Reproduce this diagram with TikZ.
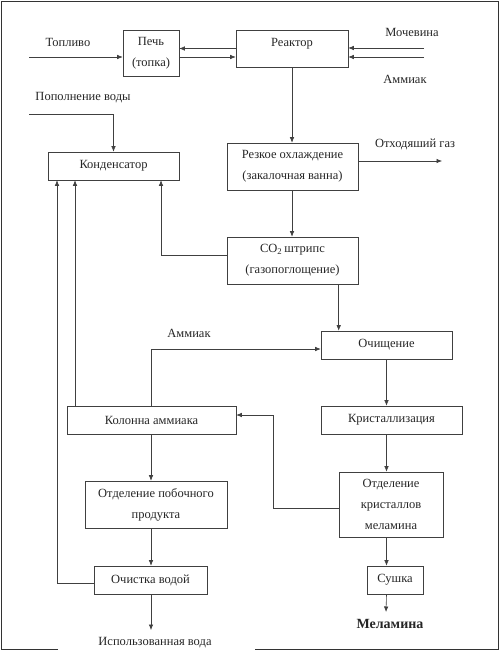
\documentclass[tikz,border=0pt]{standalone}
\usepackage{fontspec}
\setmainfont{Liberation Serif}
\usetikzlibrary{arrows.meta,calc}
\begin{document}
\begin{tikzpicture}[x=1pt,y=-1pt,
  ln/.style={draw=black!75,line width=0.6pt},
  arr/.style={ln,-{Latex[length=5.5pt,width=4.5pt]}},
  box/.style={draw=black!75,line width=0.6pt,rectangle,inner sep=0pt,align=center,
    text=black!85,font=\fontsize{12.5}{21}\selectfont},
  lbl/.style={inner sep=0pt,text=black!85,font=\fontsize{12.5}{21}\selectfont}]
\useasboundingbox (0,0) rectangle (500,661);
\fill[white] (0,0) rectangle (500,661);
% frame
\draw[draw=black!80,line width=0.8pt] (58,649) -- (1,649) -- (1,1) -- (498,1) -- (498,649) -- (255,649);
% boxes
\node[box,minimum width=56,minimum height=46] (pech) at (151,53) {Печь\\(топка)};
\node[box,minimum width=112,minimum height=37] (reactor) at (292,48.5) {};
\node[lbl] (reactort) at (292,44) {Реактор};
\node[box,minimum width=131,minimum height=28] (cond) at (113.5,166) {Конденсатор};
\node[box,minimum width=131,minimum height=47] (quench) at (292.5,166.5) {Резкое охлаждение\\(закалочная ванна)};
\node[box,minimum width=131,minimum height=47] (co2) at (292.5,260.5) {CO\textsubscript{2}\,штрипс\\(газопоглощение)};
\node[box,minimum width=131,minimum height=28] (ochi) at (386.5,345) {Очищение};
\node[box,minimum width=169,minimum height=28] (kolonna) at (151.5,420) {Колонна аммиака};
\node[box,minimum width=141,minimum height=28] (krist) at (391.5,420) {Кристаллизация};
\node[box,minimum width=142,minimum height=47] (otdpob) at (156,504.5) {Отделение побочного\\продукта};
\node[box,minimum width=113,minimum height=28] (ochistka) at (150.5,580) {Очистка водой};
\node[box,minimum width=104,minimum height=65] (otdkr) at (391,504.5) {Отделение\\кристаллов\\меламина};
\node[box,minimum width=56,minimum height=28] (sushka) at (395,580) {Сушка};
% labels
\node[lbl] (toplivo) at (68,42) {Топливо};
\node[lbl] (mochevina) at (412,32) {Мочевина};
\node[lbl] (ammiak1) at (405,79) {Аммиак};
\node[lbl] (popoln) at (83,98) {Пополнение воды};
\node[lbl] (gas) at (415,144) {Отходяший газ};
\node[lbl] (ammiak2) at (189,333) {Аммиак};
\node[lbl] (water) at (155,643) {Использованная вода};
\node[lbl,font=\fontsize{14}{16}\selectfont\bfseries] (melamin) at (390,624) {Меламина};
% free ends
\coordinate (F) at (29,57);
\coordinate (M) at (424,48);
\coordinate (A) at (424,57);
\coordinate (W) at (29,114);
\coordinate (G) at (442,161);
\coordinate (L1) at (57,0);
\coordinate (L2) at (75,0);
\coordinate (L3) at (161,0);
\coordinate (R1) at (273,0);
\coordinate (WE) at (151,630);
\coordinate (ME) at (386,612);
% connectors
\draw[arr] (F) -- (F -| pech.west);
\draw[arr] (pech.east |- F) -- (reactor.west |- F);
\draw[arr] (reactor.west) -- (reactor.west -| pech.east);
\draw[arr] (M) -- (M -| reactor.east);
\draw[arr] (A) -- (A -| reactor.east);
\draw[arr] (W) -| (cond.north);
\draw[arr] (reactor.south) -- (reactor.south |- quench.north);
\draw[arr] ($(quench.east)+(0,-5.5)$) -- (G);
\draw[arr] (reactor.south |- quench.south) -- (reactor.south |- co2.north);
\draw[arr] ($(co2.west)+(0,-5.5)$) -| (L3 |- cond.south);
\draw[arr] (co2.south -| otdkr.west) -- (ochi.north -| otdkr.west);
\draw[arr] (ochi.south) -- (ochi.south |- krist.north);
\draw[arr] (ochi.south |- krist.south) -- (ochi.south |- otdkr.north);
\draw[arr] (ochi.south |- otdkr.south) -- (ochi.south |- sushka.north);
\draw[arr] (ochi.south |- sushka.south) -- (ME);
\draw[arr] (kolonna.north -| WE) |- ($(ochi.west)+(0,4)$);
\draw[arr] (kolonna.north -| L2) -- (cond.south -| L2);
\draw[arr] ($(ochistka.west)+(0,3)$) -| (L1 |- cond.south);
\draw[ln] ($(otdpob.west)+(0,-5.5)$) -- ($(otdpob.west)+(0,-5.5)$ -| L1);
\draw[arr] (kolonna.south -| WE) -- (otdpob.north -| WE);
\draw[arr] (otdpob.south -| WE) -- (ochistka.north -| WE);
\draw[arr] (ochistka.south -| WE) -- (WE);
\draw[arr] ($(otdkr.west)+(0,3.5)$) -| ($(R1 |- kolonna.east)+(0,-5)$) -- ($(kolonna.east)+(0,-5)$);
\end{tikzpicture}
\end{document}
